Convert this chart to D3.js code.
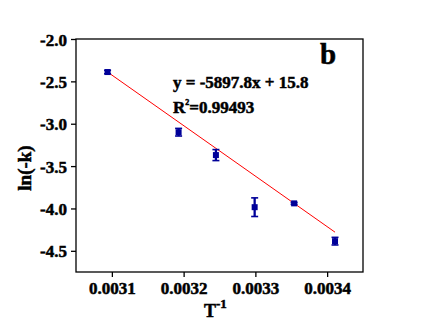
<!DOCTYPE html>
<html><head><meta charset="utf-8">
<script src="https://cdn.jsdelivr.net/npm/d3@7"></script>
<style>
body{margin:0;background:#fff;}
svg text{font-family:"Liberation Serif","Times New Roman",serif;font-weight:bold;fill:#000;stroke:#000;stroke-width:0.5px;}
</style></head>
<body><svg id="c" width="422" height="326"></svg>
<script>
const xVals = [0.003094, 0.003193, 0.003245, 0.003299, 0.003354, 0.003411];
const yVals = [-2.39, -3.10, -3.37, -3.985, -3.94, -4.386];
const yErr  = [0.02, 0.045, 0.065, 0.11, 0.012, 0.045];
const fitX = [0.003094, 0.003411];
const fitY = [-2.39, -4.28];
const xTicks = [0.0031, 0.0032, 0.0033, 0.0034];
const yTicks = [-2.0, -2.5, -3.0, -3.5, -4.0, -4.5];

const svg = d3.select("#c");
const L=76, T=39, R=363, B=272;
const x = d3.scaleLinear().domain([0.00305,0.00345]).range([L,R]);
const y = d3.scaleLinear().domain([-4.75,-2.0]).range([B,T]);

svg.append("rect").attr("x",L).attr("y",T).attr("width",R-L).attr("height",B-T)
  .attr("fill","none").attr("stroke","#000").attr("stroke-width",1.3);

const xa = svg.append("g").attr("transform",`translate(0,${B})`)
  .call(d3.axisBottom(x).tickValues(xTicks).tickSize(5).tickPadding(5).tickFormat(d=>d.toFixed(4)));
const ya = svg.append("g").attr("transform",`translate(${L},0)`)
  .call(d3.axisLeft(y).tickValues(yTicks).tickSize(5).tickPadding(4).tickFormat(d=>d.toFixed(1)));
[xa,ya].forEach(a=>{
  a.select(".domain").remove();
  a.selectAll("line").attr("stroke","#000").attr("stroke-width",1.3);
  a.selectAll("text").style("font-size","17px");
});
ya.selectAll("text").attr("dy","0.36em");

// fit line
svg.append("line").attr("x1",x(fitX[0])).attr("y1",y(fitY[0]))
  .attr("x2",x(fitX[1])).attr("y2",y(fitY[1])).attr("stroke","#ff0000").attr("stroke-width",1);

const col="#000099";
const g = svg.append("g");
xVals.forEach((xv,i)=>{
  const cx=x(xv), y1=y(yVals[i]+yErr[i]), y2=y(yVals[i]-yErr[i]);
  g.append("line").attr("x1",cx).attr("x2",cx).attr("y1",y1).attr("y2",y2).attr("stroke",col).attr("stroke-width",2.3);
  [y1,y2].forEach(yy=>g.append("line").attr("x1",cx-3.5).attr("x2",cx+3.5).attr("y1",yy).attr("y2",yy).attr("stroke",col).attr("stroke-width",1.6));
  g.append("rect").attr("x",cx-3).attr("y",y(yVals[i])-3).attr("width",6).attr("height",6).attr("fill",col);
});

svg.append("text").attr("x",173).attr("y",87.5).style("font-size","17px").text("y = -5897.8x + 15.8");
const r2=svg.append("text").attr("x",173).attr("y",112.5).style("font-size","17px");
r2.append("tspan").text("R");
r2.append("tspan").attr("dy",-8).style("font-size","8px").text("2");
r2.append("tspan").attr("dy",8).text("=0.99493");

svg.append("text").attr("x",320).attr("y",64).style("font-size","29px").text("b");

const xl=svg.append("text").attr("x",204).attr("y",317).style("font-size","18px");
xl.append("tspan").text("T");
xl.append("tspan").attr("dy",-9).style("font-size","13px").text("-1");

svg.append("text").attr("transform","translate(31,168) rotate(-90)").attr("text-anchor","middle")
  .style("font-size","19px").text("ln(-k)");
</script></body></html>
